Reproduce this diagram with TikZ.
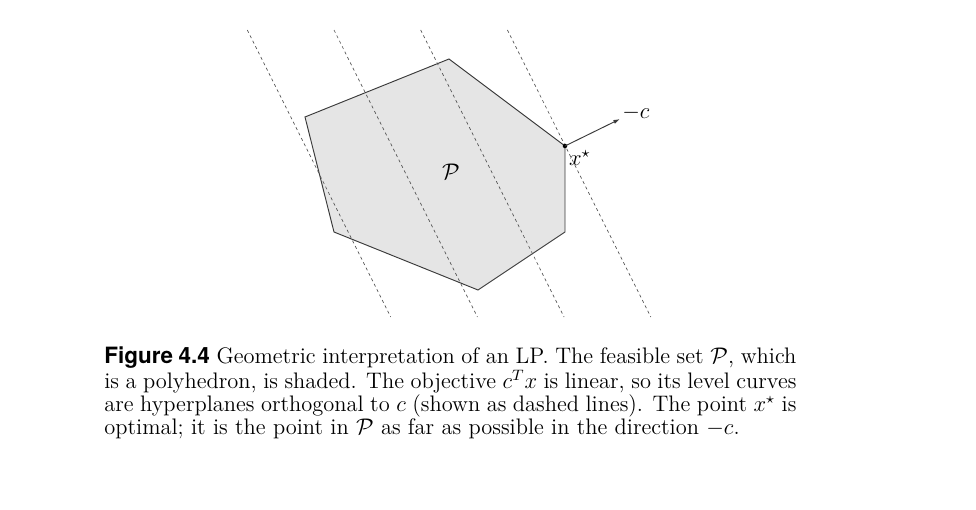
\documentclass[tikz,border=0pt]{standalone}
\usepackage{amsmath,amssymb}
\usepackage{fontspec}
\newfontfamily\capfont{TeX Gyre Heros}
\usepackage{xcolor}
\usepackage{tikz}
\usetikzlibrary{positioning,arrows.meta}
\definecolor{shade}{HTML}{E5E5E5}
\definecolor{edge}{HTML}{3A3A3A}
\definecolor{level}{HTML}{505050}
\tikzset{
  poly/.style     = {fill=shade, draw=edge, line width=0.5pt, line join=miter},
  levelset/.style = {draw=level, line width=0.35pt, dash pattern=on 1.6pt off 1.6pt},
  cvec/.style     = {-{Latex[length=3.5pt,width=2.2pt]}, draw=edge, line width=0.5pt},
  optpt/.style    = {circle, fill=black, inner sep=0pt, minimum size=2.4pt},
  lbl/.style      = {inner sep=1pt, font=\large},
  capt/.style     = {anchor=north west, inner sep=0pt, text width=366.8pt,
                     align=justify, font=\fontsize{11.9}{12.1}\selectfont},
}

\begin{document}
\begin{tikzpicture}[x=0.53pt, y=-0.53pt]
  \useasboundingbox (0,0) rectangle (976,510);

  % vertices of the feasible set
  \coordinate (vtop) at (449,59);
  \coordinate (vopt) at (565,146);
  \coordinate (vrgt) at (565,232);
  \coordinate (vbot) at (478,290);
  \coordinate (vlft) at (334,232);
  \coordinate (vupl) at (305,117);
  \filldraw[poly] (vtop) -- (vopt) -- (vrgt) -- (vbot) -- (vlft) -- (vupl) -- cycle;

  % level curves of the objective
  \foreach \k in {0,...,3} {
    \coordinate (ltop\k) at ({247.3+86.7*\k},30);
    \coordinate (lbot\k) at ({390.7+86.7*\k},317);
    \draw[levelset] (ltop\k) -- (lbot\k);
  }
  \node[lbl] (pset) at (451,172) {$\mathcal{P}$};

  % optimal point and direction -c
  \node[optpt] (xstar) at (vopt) {};
  \coordinate (ctip) at (620,119);
  \draw[cvec] (xstar.center) -- (ctip);
  \node[lbl, right=0pt of ctip, yshift=3.5pt] (clbl) {$-c$};
  \node[lbl, below right=0pt and 0pt of xstar] (xlbl) {$x^\star$};

  % caption
  \node[capt] (caption) at (104,346) {{\capfont\bfseries Figure 4.4} Geometric
    interpretation of an LP. The feasible set $\mathcal{P}$, which\linebreak is a polyhedron,
    is shaded. The objective $c^Tx$ is linear, so its level curves\linebreak are hyperplanes
    orthogonal to $c$ (shown as dashed lines). The point $x^\star$ is\linebreak optimal; it is
    the point in $\mathcal{P}$ as far as possible in the direction $-c$.};
\end{tikzpicture}
\end{document}
